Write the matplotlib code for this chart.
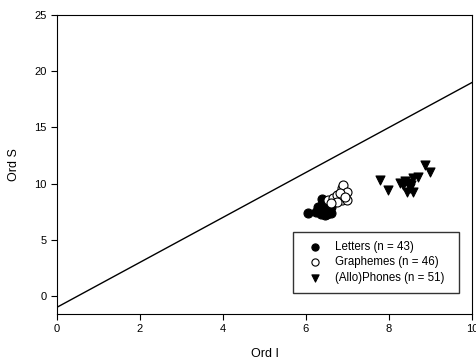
import numpy as np
import matplotlib.pyplot as plt

plt.rcParams['font.family'] = ['Liberation Sans', 'DejaVu Sans']

# Letters (filled circles)
letters_x = [6.05, 6.25, 6.30, 6.35, 6.38, 6.40, 6.45, 6.50, 6.50, 6.55,
             6.60, 6.60, 6.35, 6.42, 6.28, 6.48, 6.58, 6.38, 6.50, 6.45]
letters_y = [7.35, 7.50, 7.70, 8.00, 8.60, 7.40, 7.80, 7.30, 8.10, 7.60,
             7.90, 7.40, 7.30, 8.30, 7.90, 7.55, 8.20, 7.60, 7.90, 7.20]

# Graphemes (open circles)
graph_x = [6.53, 6.65, 6.75, 6.87, 6.90, 6.99, 6.87, 7.00, 6.75, 6.82, 6.94, 6.60]
graph_y = [8.54, 8.70, 9.00, 9.60, 9.90, 9.25, 8.54, 8.54, 8.40, 9.20, 8.80, 8.30]

# (Allo)Phones (triangles)
phon_x = [7.78, 7.98, 8.27, 8.34, 8.46, 8.58, 8.70, 8.43, 8.58, 8.50, 8.87, 9.00, 8.38, 8.52]
phon_y = [10.3, 9.43, 10.05, 9.90, 10.05, 10.5, 10.6, 9.25, 9.25, 9.60, 11.65, 11.0, 10.2, 9.9]

# reference line
line_x = np.array([0, 10])
line_y = 2 * line_x - 1

fig = plt.figure(figsize=(4.77, 3.59), dpi=100)
ax = fig.add_axes([0.1195, 0.1253, 0.87, 0.8327])

ax.plot(line_x, line_y, color='black', linewidth=1.0, zorder=1)
ax.scatter(letters_x, letters_y, s=42, marker='o', facecolor='black', edgecolor='black',
           linewidth=0.8, label='Letters (n = 43)', zorder=3)
ax.scatter(graph_x, graph_y, s=42, marker='o', facecolor='white', edgecolor='black',
           linewidth=0.8, label='Graphemes (n = 46)', zorder=3)
ax.scatter(phon_x, phon_y, s=42, marker='v', facecolor='black', edgecolor='black',
           linewidth=0.8, label='(Allo)Phones (n = 51)', zorder=3)

ax.set_xlim(0, 10)
ax.set_ylim(-1.6, 25)
ax.set_xticks([0, 2, 4, 6, 8, 10])
ax.set_yticks([0, 5, 10, 15, 20, 25])
ax.tick_params(direction='out', length=4, width=0.8, labelsize=8, top=False, right=False)
for s in ax.spines.values():
    s.set_linewidth(0.8)

ax.set_xlabel('Ord I', fontsize=9, labelpad=10)
ax.set_ylabel('Ord S', fontsize=9, labelpad=10)

leg = ax.legend(loc='lower left', bbox_to_anchor=(0.569, 0.070, 0.4, 0.194), mode='expand',
                borderaxespad=0, fontsize=8.3, frameon=True, fancybox=False,
                handlelength=2.26, handletextpad=0.6, borderpad=0.8, labelspacing=0.3,
                scatterpoints=1, markerscale=0.8)
leg.get_frame().set_edgecolor('black')
leg.get_frame().set_linewidth(1.0)

plt.savefig('out.png', dpi=100)
